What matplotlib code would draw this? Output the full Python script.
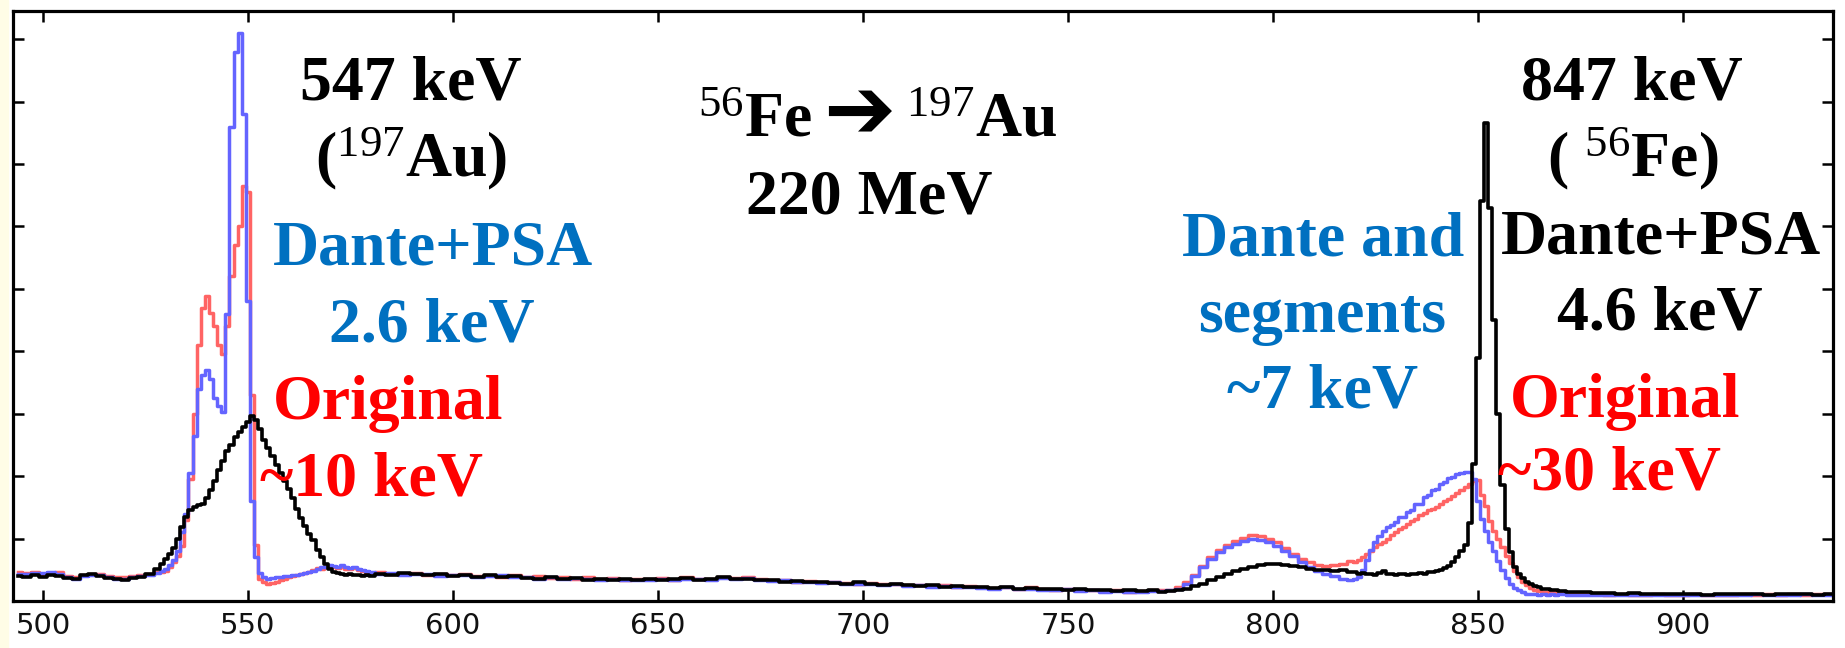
import numpy as np
import matplotlib.pyplot as plt
from matplotlib.patches import Rectangle

plt.rcParams['mathtext.fontset'] = 'custom'
plt.rcParams['mathtext.rm'] = 'Liberation Serif'
plt.rcParams['mathtext.it'] = 'Liberation Serif:italic'
plt.rcParams['mathtext.bf'] = 'Liberation Serif:bold'

# bin centres in keV: coarse bins on the flat parts, 1 keV bins through the peaks
energy = np.concatenate([
    np.arange(494, 529, 2),   # 18
    np.arange(529, 581, 1),   # 52
    np.arange(582, 772, 3),   # 64
    np.arange(773, 820, 2),   # 24
    np.arange(820, 871, 1),   # 51
    np.arange(873, 937, 3),   # 22
])

# counts (arb. units, 100 = one y tick)
red_a = [46, 45, 47, 44, 45, 46, 40, 38, 42, 44, 43, 40, 39, 38, 40, 41, 44, 47]
blue_a = [44, 43, 45, 45, 47, 44, 38, 36, 40, 42, 42, 38, 36, 36, 38, 40, 42, 45]
black_a = [40, 38, 41, 39, 42, 40, 37, 35, 41, 44, 40, 37, 35, 34, 37, 39, 44, 52]

red_b = [46, 48, 55, 62, 72, 88, 130, 195, 300, 410,
         470, 488, 462, 440, 410, 395, 440, 520, 570, 600,
         665, 655, 330, 90, 35, 30, 28, 29, 30, 34,
         36, 38, 40, 42, 44, 45, 47, 50, 53, 52,
         55, 56, 54, 53, 55, 52, 51, 53, 50, 48,
         47, 45]
blue_b = [48, 52, 58, 66, 80, 110, 140, 205, 265, 340,
          362, 370, 355, 325, 312, 302, 460, 760, 880, 910,
          780, 480, 160, 70, 45, 38, 36, 37, 38, 38,
          40, 40, 42, 41, 43, 45, 46, 48, 52, 55,
          54, 57, 56, 55, 57, 54, 53, 55, 52, 50,
          48, 46]
black_b = [60, 68, 76, 85, 100, 118, 135, 145, 150, 153,
           156, 165, 178, 192, 210, 225, 240, 250, 262, 270,
           278, 287, 297, 290, 275, 258, 245, 233, 218, 205,
           193, 180, 165, 148, 133, 120, 108, 98, 82, 70,
           60, 52, 47, 45, 44, 42, 43, 41, 42, 40,
           41, 40]

red_c = [46, 44, 43, 45, 42, 43, 41, 44, 40, 42,
         39, 41, 38, 40, 37, 39, 36, 38, 35, 37,
         34, 36, 35, 37, 34, 38, 36, 35, 39, 37,
         38, 35, 34, 33, 31, 32, 30, 31, 29, 28,
         29, 27, 28, 26, 25, 24, 25, 23, 24, 22,
         21, 23, 20, 22, 19, 18, 20, 17, 18, 16,
         17, 15, 16, 17]
blue_c = [44, 45, 41, 43, 44, 40, 42, 41, 39, 40,
          41, 38, 39, 36, 38, 36, 37, 35, 34, 36,
          33, 34, 33, 35, 33, 36, 35, 33, 37, 36,
          37, 34, 32, 33, 30, 31, 29, 30, 28, 27,
          28, 26, 27, 24, 25, 23, 24, 22, 23, 21,
          20, 22, 19, 20, 18, 17, 19, 16, 17, 15,
          16, 15, 15, 16]
black_c = [44, 42, 45, 43, 41, 44, 40, 42, 39, 41,
           38, 40, 37, 36, 38, 35, 37, 34, 36, 33,
           35, 34, 36, 33, 35, 37, 34, 36, 38, 35,
           36, 34, 33, 31, 32, 30, 31, 29, 28, 30,
           27, 26, 28, 25, 24, 26, 23, 24, 22, 23,
           21, 22, 20, 21, 19, 20, 18, 19, 17, 18,
           16, 17, 16, 18]

red_d = [17, 18, 22, 30, 42, 56, 70, 82, 90, 96, 101, 105,
         104, 100, 94, 85, 76, 68, 62, 58, 56, 57, 60, 64]
blue_d = [16, 17, 20, 28, 40, 55, 68, 78, 86, 92, 96, 99,
          98, 95, 88, 80, 72, 62, 54, 48, 44, 40, 36, 34]
black_d = [15, 16, 18, 20, 24, 28, 33, 38, 43, 48, 52, 55,
           58, 59, 60, 58, 56, 54, 52, 50, 49, 48, 50, 47]

red_e = [62, 65, 70, 75, 80, 86, 91, 95, 100, 106,
         110, 115, 119, 124, 128, 132, 137, 141, 145, 147,
         151, 155, 160, 164, 168, 173, 178, 183, 187, 192,
         194, 170, 152, 128, 112, 100, 86, 72, 61, 48,
         38, 30, 25, 21, 18, 16, 15, 15, 14, 14,
         13]
blue_e = [35, 38, 50, 65, 82, 95, 104, 112, 118, 122,
          127, 135, 134, 143, 146, 155, 156, 166, 170, 177,
          180, 188, 190, 197, 199, 204, 205, 207, 207, 195,
          160, 132, 112, 95, 80, 64, 50, 37, 28, 21,
          17, 14, 12, 11, 11, 10, 11, 10, 11, 10,
          11]
black_e = [46, 44, 45, 43, 44, 42, 45, 48, 44, 43,
           42, 44, 43, 42, 44, 43, 45, 44, 46, 46,
           48, 50, 53, 56, 62, 70, 80, 90, 125, 220,
           390, 640, 765, 630, 450, 300, 185, 115, 78, 55,
           44, 37, 31, 27, 24, 22, 20, 19, 18, 17,
           16]

red_f = [12, 11, 11, 10, 11, 10, 10, 11, 10, 9, 11,
         10, 10, 9, 11, 10, 12, 10, 11, 10, 12, 11]
blue_f = [10, 10, 9, 10, 9, 10, 9, 10, 10, 9, 10,
          9, 10, 10, 9, 11, 10, 10, 9, 11, 10, 10]
black_f = [15, 14, 13, 13, 12, 13, 11, 12, 11, 12, 11,
           10, 12, 11, 11, 12, 10, 11, 12, 11, 10, 11]

original = red_a + red_b + red_c + red_d + red_e + red_f
segments = blue_a + blue_b + blue_c + blue_d + blue_e + blue_f
psa = black_a + black_b + black_c + black_d + black_e + black_f

W, H = 1845, 648
fig = plt.figure(figsize=(W / 100, H / 100), dpi=100)
fig.patches.append(Rectangle((0, 0), 8 / W, 1, transform=fig.transFigure,
                             color='#fffde6', zorder=-1))
ax = fig.add_axes([13 / W, 1 - 601 / H, 1820 / W, 590 / H])

ax.plot(energy, original, drawstyle='steps-mid', color='#ff6464', lw=2.5)
ax.plot(energy, segments, drawstyle='steps-mid', color='#6464ff', lw=2.5)
ax.plot(energy, psa, drawstyle='steps-mid', color='black', lw=2.6)

ax.set_xlim(492.7, 936.6)
ax.set_ylim(0, 945)
ax.set_xticks(range(500, 901, 50))
ax.set_yticks(range(100, 901, 100))
ax.tick_params(direction='in', top=True, right=True, length=8, width=1.8,
               labelleft=False, labelsize=21, pad=8, labelcolor='#111111')
for s in ax.spines.values():
    s.set_linewidth(2.3)


def label(x, y, s, color, ha='center'):
    # x, y in pixels of the 1845x648 picture, y = text baseline
    fig.text(x / W, 1 - y / H, s, color=color, ha=ha, va='baseline',
             fontsize=46, fontweight='bold', family='Liberation Serif')


blue = '#0070c0'
red = '#ff0000'
label(411, 100, '547 keV', 'black')
label(411, 176, r'($^{197}$Au)', 'black')
label(433, 265, 'Dante+PSA', blue)
label(432, 342, '2.6 keV', blue)
label(388, 419, 'Original', red)
label(371, 496, '~10 keV', red)

# reaction line: the heavy arrow comes from DejaVu Sans
label(812, 137, r'$^{56}$Fe', 'black', ha='right')
fig.text(859 / W, 1 - 114 / H, '➔', ha='center', va='center',
         fontsize=62, fontweight='bold', family='DejaVu Sans', color='black')
label(906, 137, r'$^{197}$Au', 'black', ha='left')
label(869, 213, '220 MeV', 'black')

label(1323, 255, 'Dante and', blue)
label(1322, 332, 'segments', blue)
label(1323, 408, '~7 keV', blue)

label(1632, 100, '847 keV', 'black')
label(1633, 176, r'( $^{56}$Fe)', 'black')
label(1661, 253, 'Dante+PSA', 'black')
label(1660, 330, '4.6 keV', 'black')
label(1625, 417, 'Original', red)
label(1609, 490, '~30 keV', red)

fig.savefig('out.png', dpi=100)
